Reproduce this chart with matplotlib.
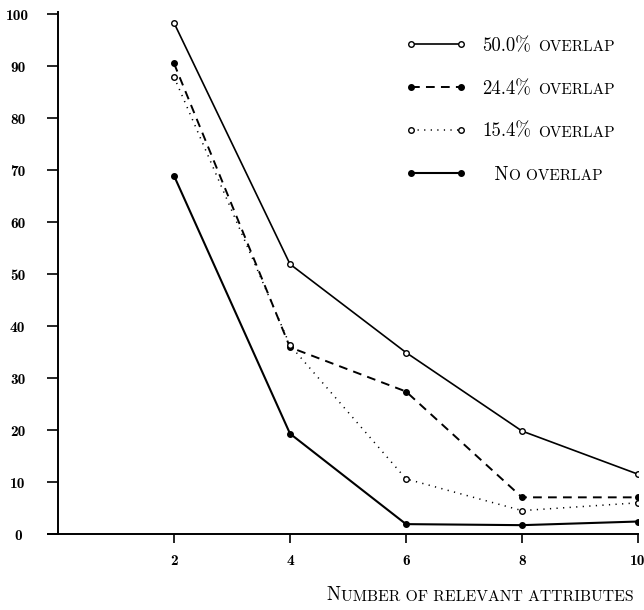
import matplotlib
matplotlib.use('Agg')
import matplotlib.pyplot as plt

# values
attrs = [2, 4, 6, 8, 10]
overlap_50 = [98.3, 51.9, 34.9, 19.8, 11.5]
overlap_24 = [90.5, 35.9, 27.4, 7.05, 7.05]
overlap_15 = [87.9, 36.3, 10.6, 4.5, 6.0]
no_overlap = [68.9, 19.3, 1.9, 1.7, 2.4]

series_names = ['50.0%', '24.4%', '15.4%', '  N']
series_tails = ['OVERLAP', 'OVERLAP', 'OVERLAP', 'O OVERLAP']
yticks = list(range(0, 101, 10))
xticks = [2, 4, 6, 8, 10]

CM = ['cmr10', 'DejaVu Serif']
CMB = ['cmb10', 'DejaVu Serif']

fig = plt.figure(figsize=(6.44, 6.10), dpi=100)
ax = fig.add_axes([48 / 644, 76 / 610, 590 / 644, 520 / 610])

ax.plot(attrs, overlap_50, '-', color='black', lw=1.2,
        marker='o', ms=4, mfc='white', mec='black', mew=1.0)
ax.plot(attrs, overlap_24, '--', color='black', lw=1.4, dashes=(4.5, 3.2),
        marker='o', ms=4, mfc='black', mec='black')
ax.plot(attrs, overlap_15, ':', color='black', lw=1.1, dashes=(0.8, 3.5),
        marker='o', ms=4, mfc='white', mec='black', mew=1.0)
ax.plot(attrs, no_overlap, '-', color='black', lw=1.5,
        marker='o', ms=4, mfc='black', mec='black')

ax.set_xlim(-10 / 58, 10)
ax.set_ylim(0, 100)
ax.spines['left'].set_position(('data', 0))
ax.spines['left'].set_bounds(0, 100.3)
for s in ['top', 'right']:
    ax.spines[s].set_visible(False)
for s in ['left', 'bottom']:
    ax.spines[s].set_linewidth(1.4)

ax.set_xticks(xticks)
ax.set_yticks(yticks)
ax.tick_params(axis='x', direction='out', length=6.5, width=1.2, pad=8)
ax.tick_params(axis='y', direction='out', length=8, width=1.2, pad=21)
for lab in ax.get_xticklabels() + ax.get_yticklabels():
    lab.set_fontfamily(CMB)
    lab.set_fontsize(11)
for lab in ax.get_yticklabels():
    lab.set_horizontalalignment('center')

leg = ax.legend(series_names, loc='upper left',
                bbox_to_anchor=(405 / 644, 1 - 37 / 610),
                bbox_transform=fig.transFigure,
                frameon=False, numpoints=2, handlelength=3.3, handletextpad=0.8,
                labelspacing=1.33, borderaxespad=0, borderpad=0,
                prop={'family': CM, 'size': 13.5})
for txt, tail in zip(leg.get_texts(), series_tails):
    gap = 0.6 if tail.startswith('O ') else 5
    ax.annotate(tail, xy=(1, 0), xycoords=txt, xytext=(gap, 0.4),
                textcoords='offset points', va='bottom', ha='left',
                family=CM, size=11, zorder=6)

# x-axis title in small caps
n = fig.text(326 / 644, 10 / 610, 'N', family=CM, size=13.5, va='baseline')
ax.annotate('UMBER OF RELEVANT ATTRIBUTES', xy=(1, 0), xycoords=n,
            xytext=(0.5, 0.3), textcoords='offset points', va='bottom',
            family=CM, size=11.3)

fig.savefig('out.png', dpi=100)
